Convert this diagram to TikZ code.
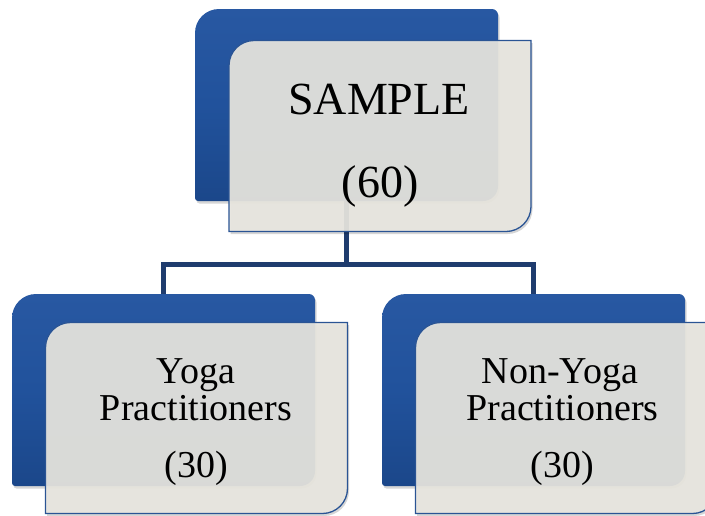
\documentclass[tikz,border=0pt]{standalone}
\usepackage{fontspec}
\setmainfont{Liberation Serif}
\usetikzlibrary{calc}
\definecolor{bluetop}{HTML}{2858A2}
\definecolor{bluemid}{HTML}{21529C}
\definecolor{bluebot}{HTML}{1B478A}
\definecolor{frontfill}{HTML}{E8E6DF}
\definecolor{frontline}{HTML}{2A5494}
\definecolor{connblue}{HTML}{1F3C6E}
\newcommand\backshape[3]{%
  \path[#3] ($(#1.south west)+(#2)+(0pt,3pt)$)
    -- ($(#1.north west)+(#2)+(0pt,-24pt)$) arc[start angle=180,end angle=90,radius=24pt]
    -- ($(#1.north east)+(#2)+(-6pt,0pt)$) arc[start angle=90,end angle=0,radius=6pt]
    -- ($(#1.south east)+(#2)+(0pt,15pt)$) arc[start angle=0,end angle=-90,radius=15pt]
    -- ($(#1.south west)+(#2)+(3pt,0pt)$) arc[start angle=-90,end angle=-180,radius=3pt]
    -- cycle;}
\newcommand\frontshape[3]{%
  \path[#3] ($(#1.south west)+(#2)$)
    -- ($(#1.north west)+(#2)+(0pt,-25pt)$) arc[start angle=180,end angle=90,radius=25pt]
    -- ($(#1.north east)+(#2)$)
    -- ($(#1.south east)+(#2)+(0pt,25pt)$) arc[start angle=0,end angle=-90,radius=25pt]
    -- cycle;}
\tikzset{
  backbox/.style={minimum width=303pt,minimum height=192pt,inner sep=0pt,outer sep=0pt},
  frontbox/.style={minimum width=302pt,minimum height=191pt,inner sep=0pt,outer sep=0pt},
  backfill/.style={top color=bluetop,bottom color=bluebot,middle color=bluemid},
  frontstyle/.style={fill=frontfill,fill opacity=0.93,draw=frontline,line width=1.3pt},
  shadowstyle/.style={fill=black,fill opacity=0.16},
  conn/.style={draw=connblue,line width=5pt},
  bigtext/.style={font=\fontsize{46}{46}\selectfont,anchor=base,inner sep=0pt},
  smalltext/.style={font=\fontsize{38}{38}\selectfont,anchor=base,inner sep=0pt},
}
\begin{document}
\begin{tikzpicture}[x=1pt,y=1pt]
\useasboundingbox (0,0) rectangle (705,-515);
\clip (0,0) rectangle (705,-515);
\fill[white] (0,0) rectangle (705,-515);
% anchor boxes
\node[backbox] (topback) at (346.5,-105) {};
\node[frontbox] (topfront) at (380,-136) {};
\node[backbox] (blback) at (163.5,-390) {};
\node[frontbox] (blfront) at (196.5,-418) {};
\node[backbox] (brback) at (533.5,-390) {};
\node[frontbox] (brfront) at (566.5,-418) {};
\coordinate (junction) at ($(topback.south)+(0,-63pt)$);
% connectors
\draw[conn] (topback.south) -- (junction);
\draw[conn] (blback.north) |- (junction) -| (brback.north);
% top box
\backshape{topback}{1.5pt,-2.5pt}{shadowstyle}
\backshape{topback}{0pt,0pt}{backfill}
\frontshape{topfront}{1.5pt,-2.5pt}{shadowstyle}
\frontshape{topfront}{0pt,0pt}{frontstyle}
% bottom left box
\backshape{blback}{1.5pt,-2.5pt}{shadowstyle}
\backshape{blback}{0pt,0pt}{backfill}
\frontshape{blfront}{1.5pt,-2.5pt}{shadowstyle}
\frontshape{blfront}{0pt,0pt}{frontstyle}
% bottom right box
\backshape{brback}{1.5pt,-2.5pt}{shadowstyle}
\backshape{brback}{0pt,0pt}{backfill}
\frontshape{brfront}{1.5pt,-2.5pt}{shadowstyle}
\frontshape{brfront}{0pt,0pt}{frontstyle}
% texts
\node[bigtext] (t1) at (379,-114) {SAMPLE};
\node[bigtext] (t2) at (380,-197) {(60)};
\node[smalltext] (l1) at (196,-383) {Yoga};
\node[smalltext] (l2) at (196,-420) {Practitioners};
\node[smalltext] (l3) at (196.5,-477) {(30)};
\node[smalltext] (r1) at (560,-383) {Non-Yoga};
\node[smalltext] (r2) at (562.5,-420) {Practitioners};
\node[smalltext] (r3) at (562,-477) {(30)};
\end{tikzpicture}
\end{document}
